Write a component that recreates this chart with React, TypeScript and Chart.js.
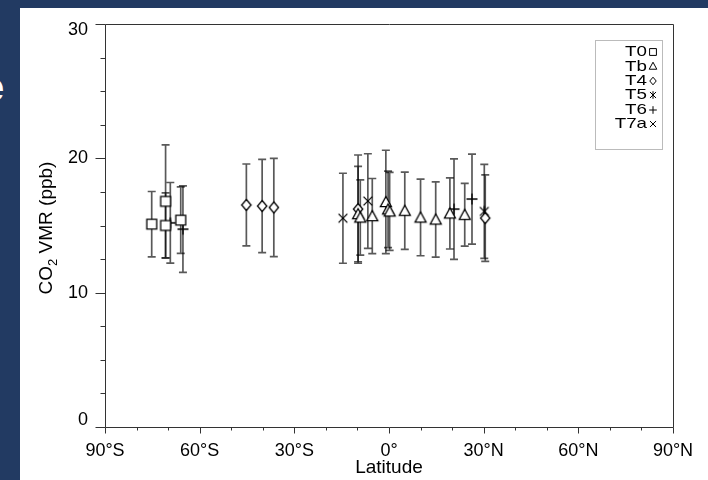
import React, { useEffect, useRef } from 'react';
import { Chart, registerables } from 'chart.js';

Chart.register(...registerables);

// Axis ticks
const latTicks = [-90, -60, -30, 0, 30, 60, 90];
const vmrTicks = [0, 10, 20, 30];

// Series: latitude (deg, S negative), CO2 VMR (ppb) and symmetric error (ppb)
const seriesNames = ['T0', 'Tb', 'T4', 'T5', 'T6', 'T7a'];

const t0Lat = [-75.2, -70.8, -70.8, -66.0];
const t0Vmr = [15.1, 16.8, 15.0, 15.4];
const t0Err = [2.43, 4.2, 2.43, 2.48];

const tbLat = [-9.8, -9.1, -5.3, -1.0, -0.3, 0.2, 5.0, 10.0, 14.8, 19.3, 24.0];
const tbVmr = [15.85, 15.6, 15.7, 16.75, 16.2, 16.05, 16.1, 15.6, 15.45, 15.9, 15.8];
const tbErr = [3.55, 2.8, 2.8, 3.85, 2.85, 2.9, 2.88, 2.85, 2.8, 2.65, 2.33];

const t4Lat = [-45.2, -40.2, -36.5, -9.8, 30.5];
const t4Vmr = [16.53, 16.45, 16.34, 16.22, 15.55];
const t4Err = [3.05, 3.47, 3.66, 4.03, 3.22];

const t5Lat = [30.2];
const t5Vmr = [16.05];
const t5Err = [3.5];

const t6Lat = [-69.3, -65.3, 20.6, 26.3];
const t6Vmr = [15.2, 14.73, 16.22, 16.97];
const t6Err = [3.0, 3.22, 3.74, 3.35];

const t7aLat = [-14.6, -6.7];
const t7aVmr = [15.54, 16.82];
const t7aErr = [3.35, 3.52];

const markerKinds = ['square', 'triangle', 'diamond', 'asterisk', 'plus', 'cross'];

const FONT = '"Liberation Sans", Arial, Helvetica, sans-serif';

function makeMarker(kind: string, r: number, lw: number): HTMLCanvasElement {
  const size = Math.ceil(r * 2 + lw * 2 + 2);
  const c = document.createElement('canvas');
  c.width = size;
  c.height = size;
  const g = c.getContext('2d')!;
  const m = size / 2;
  g.lineWidth = lw;
  g.strokeStyle = '#000';
  g.fillStyle = '#fff';
  g.beginPath();
  if (kind === 'square') {
    g.rect(m - r * 0.9, m - r * 0.9, r * 1.8, r * 1.8);
    g.fill();
  } else if (kind === 'triangle') {
    g.moveTo(m, m - r);
    g.lineTo(m + r, m + r * 0.85);
    g.lineTo(m - r, m + r * 0.85);
    g.closePath();
    g.fill();
  } else if (kind === 'diamond') {
    g.moveTo(m, m - r);
    g.lineTo(m + r * 0.85, m);
    g.lineTo(m, m + r);
    g.lineTo(m - r * 0.85, m);
    g.closePath();
    g.fill();
  } else if (kind === 'plus') {
    g.moveTo(m - r, m);
    g.lineTo(m + r, m);
    g.moveTo(m, m - r);
    g.lineTo(m, m + r);
  } else if (kind === 'cross' || kind === 'asterisk') {
    const d = r * 0.8;
    g.moveTo(m - d, m - d);
    g.lineTo(m + d, m + d);
    g.moveTo(m + d, m - d);
    g.lineTo(m - d, m + d);
    if (kind === 'asterisk') {
      g.moveTo(m, m - r);
      g.lineTo(m, m + r);
    }
  }
  g.stroke();
  return c;
}

function latLabel(v: number): string {
  if (v === 0) return '0°';
  return v < 0 ? `${-v}°S` : `${v}°N`;
}

// Vertical error bars with caps, drawn beneath the markers
const errorBarPlugin = {
  id: 'errorBars',
  beforeDatasetsDraw(chart: any) {
    const { ctx, scales } = chart;
    const xs = scales.x;
    const ys = scales.y;
    ctx.save();
    ctx.strokeStyle = 'rgba(0,0,0,0.65)';
    ctx.lineWidth = 1.7;
    chart.data.datasets.forEach((ds: any) => {
      ds.data.forEach((p: any, i: number) => {
        const e = ds.errors[i];
        const px = xs.getPixelForValue(p.x);
        const yLo = ys.getPixelForValue(p.y - e);
        const yHi = ys.getPixelForValue(p.y + e);
        ctx.beginPath();
        ctx.moveTo(px, yLo);
        ctx.lineTo(px, yHi);
        ctx.moveTo(px - 4, yLo);
        ctx.lineTo(px + 4, yLo);
        ctx.moveTo(px - 4, yHi);
        ctx.lineTo(px + 4, yHi);
        ctx.stroke();
      });
    });
    ctx.restore();
  },
};

// Frame, tick marks, VMR tick labels, axis titles and the legend box
const decorPlugin = {
  id: 'decor',
  afterDraw(chart: any) {
    const { ctx, chartArea: a, scales } = chart;
    const xs = scales.x;
    const ys = scales.y;
    const L = Math.round(a.left) + 0.5;
    const R = Math.round(a.right) + 0.5;
    const T = Math.round(a.top) + 0.5;
    const B = Math.round(a.bottom) + 0.5;
    ctx.save();
    ctx.strokeStyle = '#333';
    ctx.lineWidth = 1;
    ctx.beginPath();
    ctx.rect(L, T, R - L, B - T);
    // latitude ticks: minor every 10°, major every 30°
    for (let v = -90; v <= 90; v += 10) {
      const px = Math.round(xs.getPixelForValue(v)) + 0.5;
      const len = v % 30 === 0 ? 6 : 3;
      ctx.moveTo(px, B);
      ctx.lineTo(px, B + len);
    }
    // VMR ticks: minor every 2.5, major every 10
    for (let v = 0; v <= 30; v += 2.5) {
      const py = Math.round(ys.getPixelForValue(v)) + 0.5;
      const len = v % 10 === 0 ? 10 : 5;
      ctx.moveTo(L, py);
      ctx.lineTo(L - len, py);
    }
    ctx.stroke();

    // VMR tick labels, the end ones kept inside the frame height
    ctx.fillStyle = '#000';
    ctx.font = `18px ${FONT}`;
    ctx.textAlign = 'right';
    ctx.textBaseline = 'middle';
    vmrTicks.forEach((v) => {
      const py = ys.getPixelForValue(v);
      const ly = Math.min(Math.max(py, a.top + 6), a.bottom - 7);
      ctx.fillText(String(v), a.left - 17, ly);
    });

    // axis titles
    ctx.textAlign = 'center';
    ctx.textBaseline = 'middle';
    ctx.font = `19px ${FONT}`;
    ctx.fillText('Latitude', (a.left + a.right) / 2, 460);

    ctx.save();
    ctx.translate(27, 220);
    ctx.rotate(-Math.PI / 2);
    ctx.textBaseline = 'middle';
    ctx.textAlign = 'left';
    const big = `19px ${FONT}`;
    const small = `13px ${FONT}`;
    ctx.font = big;
    const w1 = ctx.measureText('CO').width;
    const w3 = ctx.measureText(' VMR (ppb)').width;
    ctx.font = small;
    const w2 = ctx.measureText('2').width;
    let cx = -(w1 + w2 + w3) / 2;
    ctx.font = big;
    ctx.fillText('CO', cx, 0);
    cx += w1;
    ctx.font = small;
    ctx.fillText('2', cx, 6);
    cx += w2;
    ctx.font = big;
    ctx.fillText(' VMR (ppb)', cx, 0);
    ctx.restore();

    // legend
    const boxL = 575.5, boxT = 32.5, boxR = 642.5, boxB = 141.5;
    ctx.strokeStyle = '#bbb';
    ctx.lineWidth = 1;
    ctx.strokeRect(boxL, boxT, boxR - boxL, boxB - boxT);
    ctx.font = `15px ${FONT}`;
    ctx.textAlign = 'right';
    ctx.textBaseline = 'middle';
    ctx.fillStyle = '#000';
    chart.data.datasets.forEach((ds: any, i: number) => {
      const y = 44 + i * 14.4;
      ctx.save();
      ctx.translate(627, y);
      ctx.scale(1.25, 1);
      ctx.fillText(ds.label, 0, 0);
      ctx.restore();
      const img = ds.legendMarker as HTMLCanvasElement;
      ctx.drawImage(img, Math.round(633 - img.width / 2), Math.round(y - img.height / 2));
    });
    ctx.restore();
  },
};

export default function App() {
  const ref = useRef<HTMLCanvasElement | null>(null);

  useEffect(() => {
    if (!ref.current) return;
    const lats = [t0Lat, tbLat, t4Lat, t5Lat, t6Lat, t7aLat];
    const vmrs = [t0Vmr, tbVmr, t4Vmr, t5Vmr, t6Vmr, t7aVmr];
    const errs = [t0Err, tbErr, t4Err, t5Err, t6Err, t7aErr];
    const datasets = seriesNames.map((name, k) => ({
      label: name,
      data: lats[k].map((x, i) => ({ x, y: vmrs[k][i] })),
      errors: errs[k],
      pointStyle: makeMarker(markerKinds[k], 5.5, 1.3),
      legendMarker: makeMarker(markerKinds[k], 3.8, 1.0),
      pointRadius: 5,
      showLine: false,
    }));

    const chart = new Chart(ref.current, {
      type: 'scatter',
      data: { datasets: datasets as any },
      options: {
        responsive: false,
        animation: false,
        events: [],
        layout: { padding: { top: 16, right: 35, left: 0, bottom: 0 } },
        plugins: { legend: { display: false }, tooltip: { enabled: false } },
        scales: {
          x: {
            type: 'linear',
            min: -90,
            max: 90,
            grid: { display: false },
            border: { display: false },
            afterFit: (s: any) => { s.height = 53; },
            afterBuildTicks: (s: any) => { s.ticks = latTicks.map((v) => ({ value: v })); },
            ticks: {
              autoSkip: false,
              maxRotation: 0,
              padding: 5,
              color: '#000',
              font: { family: FONT, size: 18 },
              callback: (v: any) => latLabel(Number(v)),
            },
          },
          y: {
            type: 'linear',
            min: 0,
            max: 30,
            grid: { display: false },
            border: { display: false },
            afterFit: (s: any) => { s.width = 85; },
            afterBuildTicks: (s: any) => { s.ticks = vmrTicks.map((v) => ({ value: v })); },
            ticks: { display: false },
          },
        },
      } as any,
      plugins: [errorBarPlugin, decorPlugin],
    });
    return () => chart.destroy();
  }, []);

  return (
    <div style={{ position: 'fixed', inset: 0, background: '#223a62', overflow: 'hidden' }}>
      <div
        style={{
          position: 'absolute',
          left: -18,
          top: 67,
          color: '#fff',
          font: `bold 40px ${FONT}`,
          lineHeight: '40px',
        }}
      >
        e
      </div>
      <div style={{ position: 'absolute', left: 20, top: 8, width: 688, height: 472, background: '#fff' }}>
        <canvas ref={ref} width={688} height={472} style={{ display: 'block' }} />
      </div>
    </div>
  );
}
